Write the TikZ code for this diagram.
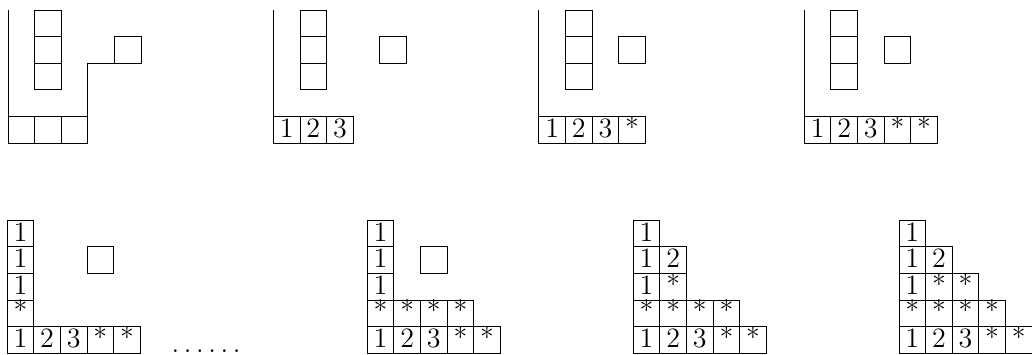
\documentclass[tikz,border=0pt]{standalone}
\usepackage{tikz}
\usetikzlibrary{positioning}

\begin{document}
\begin{tikzpicture}[
    x=4mm,
    y=4mm,
    font=\large,
    cell/.style={
        draw,
        minimum size=4mm,
        inner sep=0pt,
        outer sep=0pt,
        anchor=south west,
        text height=1.5ex,
        text depth=0pt
    },
    wall/.style={thin}
]
\useasboundingbox (0,0) rectangle (38.8,13.31);

% TOP: first panel
\begin{scope}[shift={(0.3,7.93)}]
\node[cell] (a00) at (0,0) {};
\node[cell] (a10) at (1,0) {};
\node[cell] (a20) at (2,0) {};
\node[cell] (a12) at (1,2) {};
\node[cell] (a13) at (1,3) {};
\node[cell] (a14) at (1,4) {};
\node[cell] (alone) at (4,3) {};
\coordinate (atop) at (0,5);
\draw[wall] (a00.north west) -- (atop);
\draw[wall] (a20.north east) |- (alone.south west);
\end{scope}

% TOP: second panel
\begin{scope}[shift={(10.28,7.93)}]
\node[cell] (b00) at (0,0) {1};
\node[cell] (b10) at (1,0) {2};
\node[cell] (b20) at (2,0) {3};
\node[cell] (b12) at (1,2) {};
\node[cell] (b13) at (1,3) {};
\node[cell] (b14) at (1,4) {};
\node[cell] (blone) at (4,3) {};
\coordinate (btop) at (0,5);
\draw[wall] (b00.north west) -- (btop);
\end{scope}

% TOP: third panel
\begin{scope}[shift={(20.26,7.93)}]
\node[cell] (c00) at (0,0) {1};
\node[cell] (c10) at (1,0) {2};
\node[cell] (c20) at (2,0) {3};
\node[cell] (c30) at (3,0) {*};
\node[cell] (c12) at (1,2) {};
\node[cell] (c13) at (1,3) {};
\node[cell] (c14) at (1,4) {};
\node[cell] (clone) at (3,3) {};
\coordinate (ctop) at (0,5);
\draw[wall] (c00.north west) -- (ctop);
\end{scope}

% TOP: fourth panel
\begin{scope}[shift={(30.24,7.93)}]
\node[cell] (d00) at (0,0) {1};
\node[cell] (d10) at (1,0) {2};
\node[cell] (d20) at (2,0) {3};
\node[cell] (d30) at (3,0) {*};
\node[cell] (d40) at (4,0) {*};
\node[cell] (d12) at (1,2) {};
\node[cell] (d13) at (1,3) {};
\node[cell] (d14) at (1,4) {};
\node[cell] (dlone) at (3,3) {};
\coordinate (dtop) at (0,5);
\draw[wall] (d00.north west) -- (dtop);
\end{scope}

% BOTTOM: first panel
\begin{scope}[shift={(0.27,0.03)}]
\node[cell] (e00) at (0,0) {1};
\node[cell] (e10) at (1,0) {2};
\node[cell] (e20) at (2,0) {3};
\node[cell] (e30) at (3,0) {*};
\node[cell] (e40) at (4,0) {*};
\node[cell] (e01) at (0,1) {*};
\node[cell] (e02) at (0,2) {1};
\node[cell] (e03) at (0,3) {1};
\node[cell] (e04) at (0,4) {1};
\node[cell] (elone) at (3,3) {};
\end{scope}

\node[anchor=base, inner sep=0pt, font=\fontsize{13}{15}\selectfont] (dots) at (7.75,0.07) {$\ldots\ldots$};

% BOTTOM: second panel
\begin{scope}[shift={(13.81,0.03)}]
\node[cell] (f00) at (0,0) {1};
\node[cell] (f10) at (1,0) {2};
\node[cell] (f20) at (2,0) {3};
\node[cell] (f30) at (3,0) {*};
\node[cell] (f40) at (4,0) {*};
\node[cell] (f01) at (0,1) {*};
\node[cell] (f11) at (1,1) {*};
\node[cell] (f21) at (2,1) {*};
\node[cell] (f31) at (3,1) {*};
\node[cell] (f02) at (0,2) {1};
\node[cell] (f03) at (0,3) {1};
\node[cell] (f04) at (0,4) {1};
\node[cell] (flone) at (2,3) {};
\end{scope}

% BOTTOM: third panel
\begin{scope}[shift={(23.81,0.03)}]
\node[cell] (g00) at (0,0) {1};
\node[cell] (g10) at (1,0) {2};
\node[cell] (g20) at (2,0) {3};
\node[cell] (g30) at (3,0) {*};
\node[cell] (g40) at (4,0) {*};
\node[cell] (g01) at (0,1) {*};
\node[cell] (g11) at (1,1) {*};
\node[cell] (g21) at (2,1) {*};
\node[cell] (g31) at (3,1) {*};
\node[cell] (g02) at (0,2) {1};
\node[cell] (g12) at (1,2) {*};
\node[cell] (g03) at (0,3) {1};
\node[cell] (g13) at (1,3) {2};
\node[cell] (g04) at (0,4) {1};
\end{scope}

% BOTTOM: fourth panel
\begin{scope}[shift={(33.8,0.03)}]
\node[cell] (h00) at (0,0) {1};
\node[cell] (h10) at (1,0) {2};
\node[cell] (h20) at (2,0) {3};
\node[cell] (h30) at (3,0) {*};
\node[cell] (h40) at (4,0) {*};
\node[cell] (h01) at (0,1) {*};
\node[cell] (h11) at (1,1) {*};
\node[cell] (h21) at (2,1) {*};
\node[cell] (h31) at (3,1) {*};
\node[cell] (h02) at (0,2) {1};
\node[cell] (h12) at (1,2) {*};
\node[cell] (h22) at (2,2) {*};
\node[cell] (h03) at (0,3) {1};
\node[cell] (h13) at (1,3) {2};
\node[cell] (h04) at (0,4) {1};
\end{scope}

\end{tikzpicture}
\end{document}
